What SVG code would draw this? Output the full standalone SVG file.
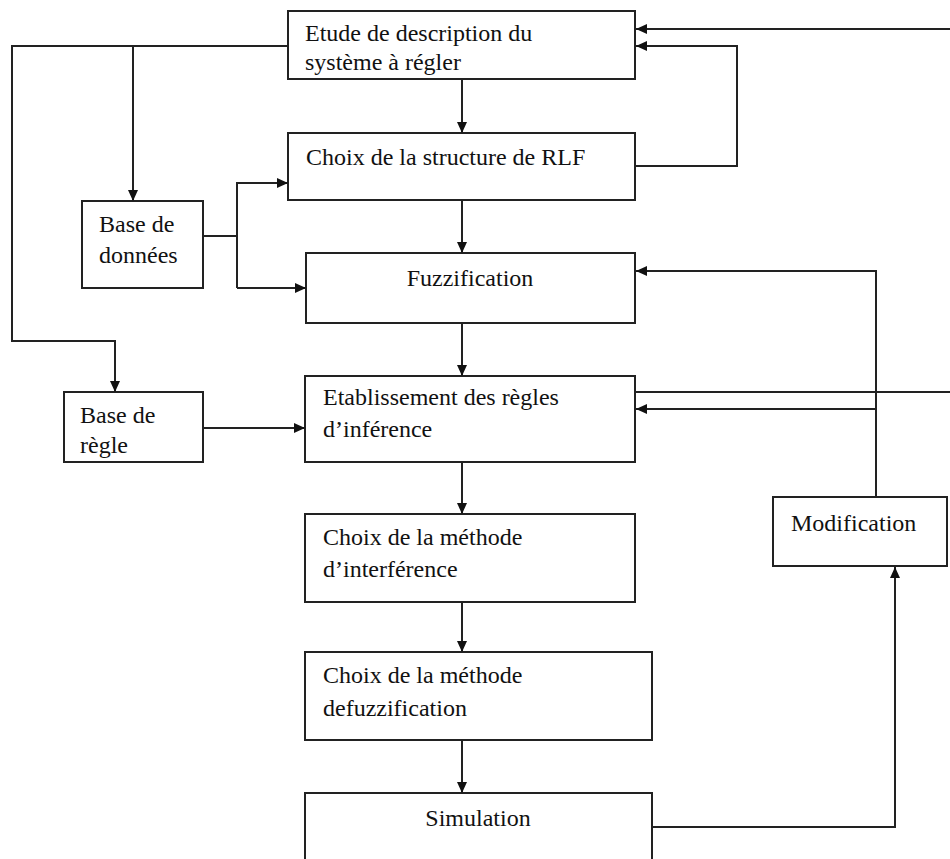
<svg xmlns="http://www.w3.org/2000/svg" width="950" height="859" viewBox="0 0 950 859">
<style>
.box{fill:#fff;stroke:#222;stroke-width:2}
.c{fill:none;stroke:#222;stroke-width:2}
</style>
<defs>
<marker id="ah" markerUnits="userSpaceOnUse" markerWidth="12" markerHeight="12" refX="11" refY="6" orient="auto">
<path d="M0,1 L11,6 L0,11 Z" fill="#111"/>
</marker>
</defs>
<rect width="950" height="859" fill="#fff"/>
<g font-family="Liberation Serif, serif" font-size="24" fill="#111">
<g id="n1"><rect class="box" x="288" y="11" width="347" height="68"/><text x="305" y="41">Etude de description du</text><text x="305" y="70">système à régler</text></g>
<g id="n2"><rect class="box" x="288" y="133" width="347" height="67"/><text x="306" y="165">Choix de la structure de RLF</text></g>
<g id="n3"><rect class="box" x="82" y="201" width="121" height="87"/><text x="99" y="232">Base de</text><text x="99" y="263">données</text></g>
<g id="n4"><rect class="box" x="306" y="253" width="329" height="70"/><text x="470" y="286" text-anchor="middle">Fuzzification</text></g>
<g id="n5"><rect class="box" x="64" y="392" width="139" height="70"/><text x="80" y="423">Base de</text><text x="80" y="453">règle</text></g>
<g id="n6"><rect class="box" x="305" y="376" width="330" height="86"/><text x="323" y="405">Etablissement des règles</text><text x="323" y="437">d’inférence</text></g>
<g id="n7"><rect class="box" x="305" y="514" width="330" height="88"/><text x="323" y="545">Choix de la méthode</text><text x="323" y="577">d’interférence</text></g>
<g id="n8"><rect class="box" x="305" y="652" width="347" height="88"/><text x="323" y="683">Choix de la méthode</text><text x="323" y="716">defuzzification</text></g>
<g id="n9"><rect class="box" x="305" y="793" width="347" height="80"/><text x="478" y="826" text-anchor="middle">Simulation</text></g>
<g id="n10"><rect class="box" x="773" y="497" width="174" height="69"/><text x="791" y="531">Modification</text></g>
</g>
<g id="connectors">
<path class="c" d="M950,29 L636,29" marker-end="url(#ah)"/>
<path class="c" d="M635,166 L737,166 L737,46 L636,46" marker-end="url(#ah)"/>
<path class="c" d="M288,46 L12,46 L12,341 L115,341 L115,392" marker-end="url(#ah)"/>
<path class="c" d="M133,46 L133,201" marker-end="url(#ah)"/>
<path class="c" d="M462,79 L462,133" marker-end="url(#ah)"/>
<path class="c" d="M203,236 L237,236"/>
<path class="c" d="M237,288 L237,183 L288,183" marker-end="url(#ah)"/>
<path class="c" d="M237,288 L306,288" marker-end="url(#ah)"/>
<path class="c" d="M462,200 L462,253" marker-end="url(#ah)"/>
<path class="c" d="M462,323 L462,376" marker-end="url(#ah)"/>
<path class="c" d="M876,497 L876,271 L636,271" marker-end="url(#ah)"/>
<path class="c" d="M876,409 L636,409" marker-end="url(#ah)"/>
<path class="c" d="M635,392 L950,392"/>
<path class="c" d="M203,428 L305,428" marker-end="url(#ah)"/>
<path class="c" d="M462,462 L462,514" marker-end="url(#ah)"/>
<path class="c" d="M462,602 L462,652" marker-end="url(#ah)"/>
<path class="c" d="M462,740 L462,793" marker-end="url(#ah)"/>
<path class="c" d="M652,827 L895,827 L895,567" marker-end="url(#ah)"/>
</g>
</svg>
